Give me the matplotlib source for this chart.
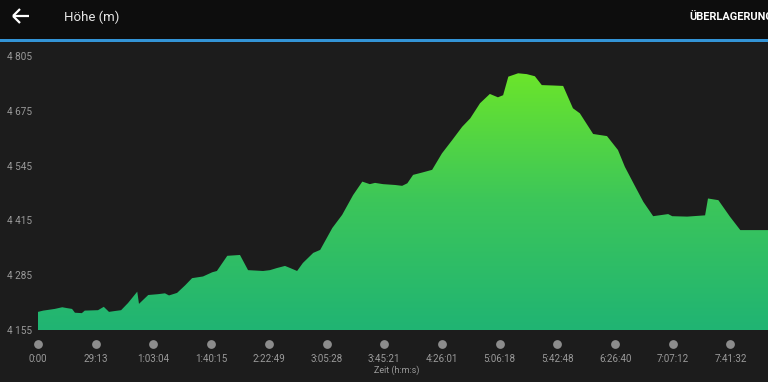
import matplotlib
matplotlib.use("Agg")
import matplotlib.pyplot as plt
import numpy as np
from matplotlib.colors import LinearSegmentedColormap
from matplotlib.transforms import blended_transform_factory
from matplotlib.lines import Line2D

# ---- data (x in tick-spacing units, elevation in m) ----
dist = [0.00, 0.09, 0.29, 0.42, 0.50, 0.59, 0.64, 0.76, 0.81, 1.04, 1.14, 1.23, 1.33, 1.44,
        1.56, 1.72, 1.75, 1.91, 2.08, 2.20, 2.27, 2.41, 2.55, 2.67, 2.86, 3.02, 3.10, 3.28,
        3.50, 3.64, 3.90, 4.02, 4.14, 4.28, 4.37, 4.49, 4.59, 4.77, 4.89, 5.10, 5.27, 5.46,
        5.62, 5.75, 5.84, 5.98, 6.19, 6.31, 6.40, 6.50, 6.67, 6.83, 7.00, 7.18, 7.35, 7.49,
        7.66, 7.83, 7.97, 8.06, 8.15, 8.32, 8.47, 8.61, 8.73, 8.93, 9.10, 9.27, 9.39, 9.62,
        9.86, 10.05, 10.17, 10.35, 10.49, 10.66, 10.92, 10.99, 11.25, 11.56, 11.61, 11.79,
        11.99, 12.17, 12.65]
elev = [4198, 4201, 4205, 4209, 4207, 4205, 4196, 4195, 4201, 4202, 4210, 4198, 4200, 4202,
        4219, 4246, 4217, 4238, 4240, 4242, 4237, 4243, 4261, 4278, 4282, 4292, 4295, 4331,
        4333, 4297, 4295, 4297, 4302, 4307, 4302, 4295, 4314, 4338, 4345, 4397, 4428, 4475,
        4507, 4501, 4504, 4501, 4499, 4497, 4503, 4523, 4529, 4535, 4574, 4606, 4637, 4657,
        4693, 4715, 4707, 4712, 4756, 4764, 4762, 4757, 4736, 4735, 4734, 4681, 4669, 4620,
        4615, 4582, 4542, 4495, 4459, 4425, 4430, 4425, 4424, 4427, 4467, 4463,
        4424, 4392, 4392]
y_ticks = [4155, 4285, 4415, 4545, 4675, 4805]
x_tick_labels = ["0:00", "29:13", "1:03:04", "1:40:15", "2:22:49", "3:05:28", "3:45:21",
                 "4:26:01", "5:06:18", "5:42:48", "6:26:40", "7:07:12", "7:41:32"]
x_ticks = list(range(len(x_tick_labels)))

W, H = 768, 382
fig = plt.figure(figsize=(W / 100, H / 100), dpi=100)
fig.patch.set_facecolor("#1c1c1c")
FONT = ["Roboto", "DejaVu Sans"]

# top bar
fig.patches.append(plt.Rectangle((0, 1 - 39 / H), 1, 39 / H, transform=fig.transFigure,
                                 facecolor="#0d0d0d", edgecolor="none", zorder=0))
fig.patches.append(plt.Rectangle((0, 1 - 41.5 / H), 1, 2.5 / H, transform=fig.transFigure,
                                 facecolor="#3394d6", edgecolor="none", zorder=1))
# back arrow icon
def fx(px):
    return px / W
def fy(py):
    return 1 - py / H
for xs, ys in [((13, 28.5), (16, 16)), ((13, 20), (16, 9)), ((13, 20), (16, 23))]:
    fig.lines.append(Line2D([fx(v) for v in xs], [fy(v) for v in ys], transform=fig.transFigure,
                            color="white", linewidth=1.6, solid_capstyle="butt"))
fig.text(64 / W, 1 - 17 / H, "Höhe (m)", color="#e6e6e6", fontsize=9.5, family=FONT,
         ha="left", va="center")
fig.text(689 / W, 1 - 17 / H, "ÜBERLAGERUNG", color="white", fontsize=7.9, family=FONT,
         ha="left", va="center", fontweight="bold")

# plot axes
left, right, bottom_px, top_px = 38, 768, 330, 56
ax = fig.add_axes([left / W, (H - bottom_px) / H, (right - left) / W, (bottom_px - top_px) / H])
ax.set_facecolor("none")
for s in ax.spines.values():
    s.set_visible(False)
ax.set_xlim(0, dist[-1])
ax.set_ylim(y_ticks[0], y_ticks[-1])

poly = ax.fill_between(dist, elev, y_ticks[0], facecolor="none", edgecolor="none")
cmap = LinearSegmentedColormap.from_list("g", ["#20b473", "#3cc65a", "#6be52b"])
grad = np.linspace(0, 1, 256).reshape(-1, 1)
img = ax.imshow(grad, cmap=cmap, origin="lower", aspect="auto",
                extent=[0, dist[-1], y_ticks[0], max(elev)], zorder=2)
img.set_clip_path(poly.get_paths()[0], transform=ax.transData)
ax.set_ylim(y_ticks[0], y_ticks[-1])

ax.set_yticks(y_ticks)
ax.set_yticklabels([f"{v // 1000} {v % 1000:03d}" for v in y_ticks], family=FONT,
                   fontsize=7.2, color="#9a9a9a")
ax.set_xticks(x_ticks)
ax.set_xticklabels(x_tick_labels, family=FONT, fontsize=7, color="#9a9a9a")
ax.tick_params(axis="y", length=0, pad=4)
ax.tick_params(axis="x", length=0, pad=17)

trans = blended_transform_factory(ax.transData, ax.transAxes)
ax.scatter(x_ticks, [-(344 - bottom_px) / (bottom_px - top_px)] * len(x_ticks), s=40,
           color="#8c8c8c", transform=trans, clip_on=False, zorder=3, linewidths=0)

fig.text(397 / W, 1 - 370 / H, "Zeit (h:m:s)", color="#9a9a9a", fontsize=6.5, family=FONT,
         ha="center", va="center")

fig.savefig("out.png", dpi=100, facecolor=fig.get_facecolor())
